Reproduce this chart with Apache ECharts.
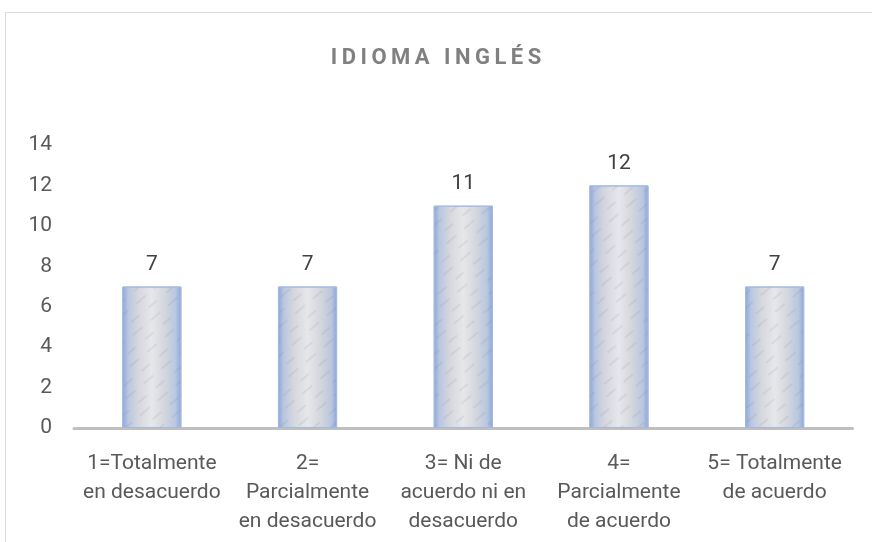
<!DOCTYPE html>
<html>
<head>
<meta charset="utf-8">
<script src="https://cdn.jsdelivr.net/npm/echarts@6/dist/echarts.min.js"></script>
<style>
html,body{margin:0;padding:0;background:#fff;}
#chart{width:872px;height:542px;}
</style>
</head>
<body>
<div id="chart"></div>
<script>
const titleText = 'IDIOMA INGLÉS';
const categories = [
  '1=Totalmente\nen desacuerdo',
  '2=\nParcialmente\nen desacuerdo',
  '3= Ni de\nacuerdo ni en\ndesacuerdo',
  '4=\nParcialmente\nde acuerdo',
  '5= Totalmente\nde acuerdo'
];
const values = [7, 7, 11, 12, 7];
const yTicks = [0, 2, 4, 6, 8, 10, 12, 14];

const FONT = 'Roboto, "Open Sans", sans-serif';
const spacedTitle = titleText.split('').join('\u2009');

const chart = echarts.init(document.getElementById('chart'), null, {renderer: 'canvas'});
chart.setOption({
  animation: false,
  backgroundColor: '#ffffff',
  graphic: [{
    type: 'rect',
    silent: true,
    shape: {x: 5.5, y: 12.5, width: 1000, height: 1000},
    style: {fill: 'none', stroke: '#d9d9d9', lineWidth: 1}
  }],
  title: {
    text: spacedTitle,
    left: 'center',
    top: 47,
    padding: 0,
    textStyle: {fontFamily: FONT, fontSize: 22, fontWeight: 'bold', color: '#808080'}
  },
  grid: {left: 74, right: 19.5, top: 145, bottom: 114, containLabel: false},
  xAxis: {
    type: 'category',
    data: categories,
    axisLine: {show: true, lineStyle: {color: '#bfbfbf', width: 3}},
    axisTick: {show: false},
    axisLabel: {
      interval: 0,
      margin: 21,
      fontFamily: FONT,
      fontSize: 21,
      lineHeight: 29,
      color: '#595959'
    }
  },
  yAxis: {
    type: 'value',
    min: yTicks[0],
    max: yTicks[yTicks.length - 1],
    interval: yTicks[1] - yTicks[0],
    axisLine: {show: false},
    axisTick: {show: false},
    splitLine: {show: false},
    axisLabel: {margin: 22, fontFamily: FONT, fontSize: 21, color: '#595959'}
  },
  series: [{
    type: 'bar',
    data: values,
    barWidth: '38%',
    itemStyle: {
      color: new echarts.graphic.LinearGradient(0, 0, 1, 0, [
        {offset: 0, color: '#8aa6db'},
        {offset: 0.1, color: '#bac7e0'},
        {offset: 0.28, color: '#d6d8de'},
        {offset: 0.5, color: '#e6e7ea'},
        {offset: 0.72, color: '#d3d6dc'},
        {offset: 0.9, color: '#bac7e0'},
        {offset: 1, color: '#8aa6db'}
      ]),
      borderColor: '#a4b8e2',
      borderWidth: 1,
      decal: {
        symbol: 'rect',
        symbolSize: 0.9,
        color: 'rgba(110,110,120,0.12)',
        dashArrayX: [[14, 9], [0, 7, 12, 4]],
        dashArrayY: [2, 9],
        rotation: -0.7
      }
    },
    label: {
      show: true,
      position: 'top',
      distance: 11,
      fontFamily: FONT,
      fontSize: 21,
      color: '#404040'
    }
  }]
});
</script>
</body>
</html>
